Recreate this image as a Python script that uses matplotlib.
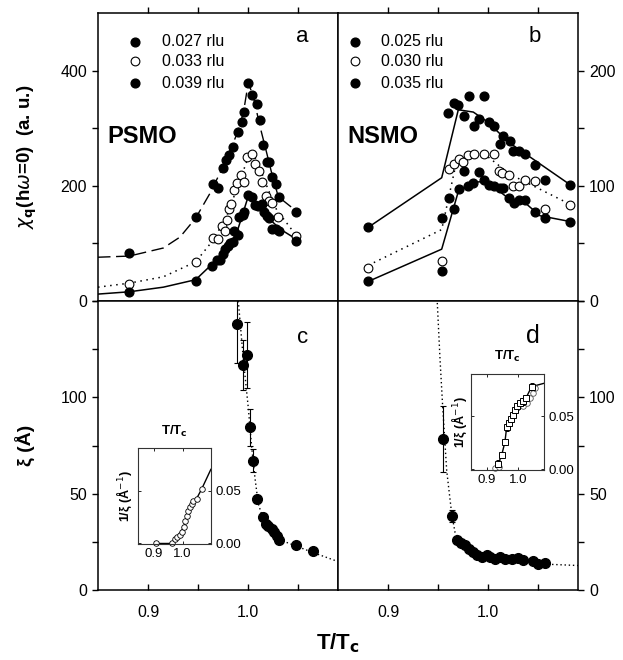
import matplotlib
matplotlib.use('Agg')
import matplotlib.pyplot as plt
from matplotlib.ticker import FixedLocator

plt.rcParams['font.family'] = ['Liberation Sans', 'DejaVu Sans']
plt.rcParams['mathtext.fontset'] = 'dejavusans'

# ---- panel a (PSMO, chi_q) ----
a1_T = [0.8813, 0.9477, 0.9647, 0.9697, 0.9747, 0.978, 0.9813, 0.9853, 0.9903, 0.9937, 0.996, 1.0003,
        1.0043, 1.0087, 1.012, 1.0147, 1.0193, 1.0213, 1.0237, 1.0277, 1.031, 1.0477]
a1_y = [83, 145, 203, 197, 231, 245, 253, 267, 293, 311, 328, 379,
        357, 342, 314, 270, 241, 241, 216, 203, 180, 155]
a2_T = [0.8813, 0.9477, 0.9647, 0.9697, 0.9737, 0.977, 0.9787, 0.981, 0.983, 0.9863, 0.9893, 0.993,
        0.9963, 0.9993, 1.0037, 1.007, 1.011, 1.0137, 1.0177, 1.021, 1.0243, 1.0303, 1.0477]
a2_y = [29, 67, 110, 107, 131, 122, 141, 160, 168, 193, 205, 219,
        206, 250, 256, 238, 226, 207, 183, 173, 170, 145, 112]
a3_T = [0.8813, 0.9477, 0.9643, 0.9687, 0.972, 0.9753, 0.977, 0.9797, 0.982, 0.9847, 0.986, 0.9897,
        0.9913, 0.9953, 0.9963, 1.0003, 1.0043, 1.007, 1.0103, 1.0137, 1.016, 1.0187, 1.021, 1.0237,
        1.0277, 1.031, 1.0477]
a3_y = [15, 35, 60, 72, 72, 82, 90, 96, 100, 103, 121, 115,
        145, 150, 154, 184, 180, 166, 165, 169, 154, 148, 144, 125,
        125, 122, 105]
a1_fit_T = [0.85, 0.8813, 0.9153, 0.932, 0.9477, 0.962, 0.9753, 0.9887, 0.9953, 1.0003,
            1.0053, 1.012, 1.0187, 1.0237, 1.0303, 1.0477]
a1_fit_y = [76, 78, 92, 111, 144, 187, 234, 289, 326, 379,
            355, 303, 257, 222, 181, 157]
a2_fit_T = [0.85, 0.8813, 0.9153, 0.9477, 0.9653, 0.9787, 0.992, 1.002, 1.0087, 1.0187, 1.0287, 1.0477]
a2_fit_y = [24, 31, 42, 68, 106, 147, 210, 258, 245, 200, 158, 115]
a3_fit_T = [0.85, 0.8813, 0.9153, 0.9477, 0.9653, 0.9787, 0.9887, 1.0003, 1.007, 1.0187, 1.032, 1.0477]
a3_fit_y = [12, 16, 24, 37, 66, 92, 118, 182, 170, 147, 125, 108]
a_labels = ['0.027 rlu', '0.033 rlu', '0.039 rlu']

# ---- panel b (NSMO, chi_q) ----
b1_T = [0.8803, 0.9603, 0.966, 0.9697, 0.976, 0.9813, 0.986, 0.9913, 0.996, 1.0013, 1.006, 1.012,
        1.0153, 1.022, 1.0253, 1.0313, 1.037, 1.047, 1.057, 1.082]
b1_y = [64, 163, 172, 170, 161, 178, 152, 158, 178, 155, 152, 136,
        143, 139, 130, 130, 128, 118, 105, 101]
b2_T = [0.8803, 0.9543, 0.961, 0.966, 0.971, 0.9753, 0.9797, 0.986, 0.996, 1.006, 1.011, 1.0143,
        1.021, 1.0253, 1.0313, 1.037, 1.047, 1.057, 1.082]
b2_y = [29, 35, 115, 119, 123, 121, 127, 128, 128, 128, 113, 111,
        109, 100, 100, 105, 104, 80, 83]
b3_T = [0.8803, 0.9543, 0.9543, 0.961, 0.966, 0.9713, 0.976, 0.9797, 0.9853, 0.9913, 0.996, 1.0013,
        1.006, 1.012, 1.0153, 1.0213, 1.0263, 1.0313, 1.037, 1.047, 1.057, 1.082]
b3_y = [17, 26, 72, 89, 80, 97, 113, 100, 102, 112, 105, 101,
        100, 98, 98, 89, 85, 88, 88, 77, 72, 69]
b1_fit_T = [0.8803, 0.9537, 0.9703, 0.9853, 0.9987, 1.022, 1.0387, 1.082]
b1_fit_y = [64, 107, 166, 164, 156, 137, 127, 101]
b2_fit_T = [0.8803, 0.9537, 0.967, 0.9787, 0.9987, 1.022, 1.082]
b2_fit_y = [31, 62, 115, 126, 126, 110, 84]
b3_fit_T = [0.8803, 0.9537, 0.9703, 0.9853, 0.9987, 1.022, 1.0387, 1.052, 1.082]
b3_fit_y = [17, 45, 95, 103, 104, 88, 84, 74, 69]
b_labels = ['0.025 rlu', '0.030 rlu', '0.035 rlu']

# ---- panel c (PSMO, xi) ----
c_T = [0.9887, 0.9953, 0.9993, 1.002, 1.005, 1.0093, 1.0147, 1.0177, 1.0203, 1.0237, 1.0263,
       1.0287, 1.0313, 1.048, 1.0647]
c_xi = [138, 117, 122, 84.5, 67, 47, 38, 34, 33, 31.5, 30, 28, 26, 23.5, 20]
c_err = [20, 13, 17, 9.5, 6, 2, 0, 0, 0, 0, 0, 0, 0, 0, 0]
c_fit_T = [0.9903, 0.9953, 1.0003, 1.0037, 1.007, 1.0103, 1.017, 1.032, 1.0487, 1.0653, 1.0887]
c_fit_xi = [150, 120, 94.5, 74, 58, 44.7, 34, 26, 22.7, 19.4, 15]
ci_T = [0.909, 0.9617, 0.973, 0.981, 0.9906, 0.9986, 1.0045, 1.008, 1.014, 1.0195, 1.0254,
        1.0314, 1.037, 1.0488, 1.0662]
ci_inv = [0.0, 0.0, 0.0044, 0.0063, 0.0084, 0.011, 0.0157, 0.0209, 0.0256, 0.0303, 0.0344,
          0.0375, 0.0397, 0.0422, 0.0513]
ci_fit_T = [0.909, 0.9617, 0.975, 0.99, 1.005, 1.02, 1.035, 1.05, 1.0662, 1.0986]
ci_fit_inv = [0.0, 0.0, 0.004, 0.009, 0.016, 0.029, 0.037, 0.043, 0.0513, 0.0701]

# ---- panel d (NSMO, xi) ----
d_T = [0.9553, 0.9643, 0.9687, 0.9727, 0.977, 0.9813, 0.9853, 0.9893, 0.9937, 0.9987, 1.002,
       1.007, 1.012, 1.017, 1.0237, 1.0303, 1.0353, 1.0453, 1.0503, 1.057]
d_xi = [78.5, 38.3, 26, 24.6, 23.2, 21.5, 19.8, 18, 17.2, 18, 17.2,
        16.3, 17.2, 16, 16.3, 16.7, 15.8, 15, 13.4, 14.1]
d_err = [17, 3, 0, 0, 0, 0, 0, 0, 0, 0, 0, 0, 0, 0, 0, 0, 0, 0, 0, 0]
d_fit_T = [0.9493, 0.952, 0.9547, 0.9587, 0.9637, 0.967, 0.972, 0.992, 1.0253, 1.0587, 1.0903]
d_fit_xi = [149, 120, 95, 62, 39.5, 30, 25.4, 18, 15.8, 13.4, 12.7]
di_sq_T = [0.9367, 0.9473, 0.9577, 0.963, 0.9703, 0.9767, 0.984, 0.9893, 0.9966, 1.005, 1.0155,
           1.024, 1.042]
di_sq_inv = [0.0056, 0.0134, 0.026, 0.0397, 0.0438, 0.0478, 0.0516, 0.0563, 0.0594, 0.0625,
             0.0641, 0.0673, 0.0781]
di_ci_T = [0.9262, 0.9388, 0.9997, 1.0155, 1.026, 1.0366, 1.047, 1.0524]
di_ci_inv = [0.001, 0.002, 0.0594, 0.0594, 0.0625, 0.0673, 0.072, 0.0766]
di_fit_T = [0.9367, 0.9473, 0.9577, 0.963, 0.9767, 0.9893, 1.005, 1.024, 1.042, 1.082]
di_fit_inv = [0.0056, 0.0134, 0.026, 0.0397, 0.0478, 0.0563, 0.0625, 0.0673, 0.0781, 0.0813]

FS = 11.5
ms = 6.3

fig = plt.figure(figsize=(6.23, 6.60), dpi=100)
L1, L2, W = 98 / 623, 338 / 623, 240 / 623
B_top, H_top = 1 - 301 / 660, 288 / 660
B_bot, H_bot = 1 - 590 / 660, 289 / 660
axa = fig.add_axes([L1, B_top, W, H_top])
axb = fig.add_axes([L2, B_top, W, H_top])
axc = fig.add_axes([L1, B_bot, W, H_bot])
axd = fig.add_axes([L2, B_bot, W, H_bot])


def style(ax, side, top):
  for s in ax.spines.values():
    s.set_linewidth(1.1)
  ax.set_xlim(0.85, 1.09)
  ax.xaxis.set_major_locator(FixedLocator([0.9, 1.0]))
  ax.xaxis.set_minor_locator(FixedLocator([0.95, 1.05]))
  ax.set_xticklabels(['0.9', '1.0'])
  if top:
    ax.tick_params(axis='x', which='both', direction='out', top=True, bottom=True,
                   labelbottom=False, length=4, width=1)
  else:
    ax.tick_params(axis='x', which='both', direction='in', top=False, bottom=True,
                   labelbottom=True, length=4, width=1, labelsize=FS, pad=11)
  if side == 'left':
    ax.tick_params(axis='y', which='both', direction='out', left=True, right=False,
                   labelleft=True, labelright=False, length=4, width=1, labelsize=FS, pad=4)
  else:
    ax.tick_params(axis='y', which='both', direction='out', left=False, right=True,
                   labelleft=False, labelright=True, length=4, width=1, labelsize=FS, pad=4)


# panel a
style(axa, 'left', True)
axa.set_ylim(0, 500)
axa.yaxis.set_major_locator(FixedLocator([0, 200, 400]))
axa.yaxis.set_minor_locator(FixedLocator([100, 300]))
axa.plot(a1_fit_T, a1_fit_y, color='k', lw=1, dashes=(9, 4))
axa.plot(a2_fit_T, a2_fit_y, color='k', lw=1.1, dashes=(1, 3))
axa.plot(a3_fit_T, a3_fit_y, color='k', lw=1.1)
axa.plot(a1_T, a1_y, 'o', color='k', ms=ms, zorder=3)
axa.plot(a2_T, a2_y, 'o', mfc='white', mec='k', mew=0.8, ms=ms, zorder=3)
axa.plot(a3_T, a3_y, 'o', color='k', ms=ms, zorder=3)
axa.text(0.04, 0.571, 'PSMO', transform=axa.transAxes, fontsize=17, fontweight='bold', va='center')
axa.text(0.853, 0.918, 'a', transform=axa.transAxes, fontsize=16, ha='center', va='center')
axa.set_ylabel(r'$\chi_\mathbf{q}$(h$\omega$=0)  (a. u.)', fontsize=13.5, fontweight='bold', labelpad=15)

# panel b
style(axb, 'right', True)
axb.set_ylim(0, 250)
axb.yaxis.set_major_locator(FixedLocator([0, 100, 200]))
axb.yaxis.set_minor_locator(FixedLocator([50, 150]))
axb.plot(b1_fit_T, b1_fit_y, color='k', lw=1.1)
axb.plot(b2_fit_T, b2_fit_y, color='k', lw=1.1, dashes=(1, 3))
axb.plot(b3_fit_T, b3_fit_y, color='k', lw=1.1)
axb.plot(b1_T, b1_y, 'o', color='k', ms=ms, zorder=3)
axb.plot(b2_T, b2_y, 'o', mfc='white', mec='k', mew=0.8, ms=ms, zorder=3)
axb.plot(b3_T, b3_y, 'o', color='k', ms=ms, zorder=3)
axb.text(0.04, 0.571, 'NSMO', transform=axb.transAxes, fontsize=17, fontweight='bold', va='center')
axb.text(0.821, 0.918, 'b', transform=axb.transAxes, fontsize=16, ha='center', va='center')

# legends
leg_y = [0.900, 0.833, 0.756]
for ax, labels, mx, tx in [(axa, a_labels, 0.154, 0.267), (axb, b_labels, 0.071, 0.178)]:
  for i, (lab, yy) in enumerate(zip(labels, leg_y)):
    if i == 1:
      ax.plot([mx], [yy], 'o', mfc='white', mec='k', mew=0.8, ms=ms, transform=ax.transAxes)
    else:
      ax.plot([mx], [yy], 'o', color='k', ms=ms, transform=ax.transAxes)
    ax.text(tx, yy, lab, transform=ax.transAxes, fontsize=FS, va='center')

# panel c
style(axc, 'left', False)
axc.set_ylim(0, 150)
axc.yaxis.set_major_locator(FixedLocator([0, 50, 100]))
axc.yaxis.set_minor_locator(FixedLocator([25, 75, 125, 150]))
axc.plot(c_fit_T, c_fit_xi, color='k', lw=1, dashes=(1, 2))
axc.errorbar(c_T, c_xi, yerr=c_err, fmt='o', color='k', ms=7, elinewidth=0.8, capsize=2, capthick=0.8)
axc.text(0.853, 0.873, 'c', transform=axc.transAxes, fontsize=16, ha='center', va='center')
axc.set_ylabel('ξ (Å)', fontsize=14, fontweight='bold', labelpad=18)

# panel d
style(axd, 'right', False)
axd.set_ylim(0, 150)
axd.yaxis.set_major_locator(FixedLocator([0, 50, 100]))
axd.yaxis.set_minor_locator(FixedLocator([25, 75, 125, 150]))
axd.plot(d_fit_T, d_fit_xi, color='k', lw=1, dashes=(1, 2))
axd.errorbar(d_T, d_xi, yerr=d_err, fmt='o', color='k', ms=7, elinewidth=0.8, capsize=2, capthick=0.8)
axd.text(0.814, 0.879, 'd', transform=axd.transAxes, fontsize=18, ha='center', va='center')

fig.text(338 / 623, 1 - 643 / 660, r'T/T$_\mathbf{c}$', fontsize=16, fontweight='bold', ha='center', va='center')


# insets
def inset_style(ax, xlim):
  for s in ax.spines.values():
    s.set_linewidth(0.8)
    s.set_color('#333333')
  ax.set_xlim(*xlim)
  ax.set_ylim(-0.0005, 0.09)
  ax.xaxis.set_major_locator(FixedLocator([0.9, 1.0]))
  ax.set_xticklabels(['0.9', '1.0'])
  ax.yaxis.set_major_locator(FixedLocator([0.0, 0.05]))
  ax.set_yticklabels(['0.00', '0.05'])
  ax.tick_params(which='both', direction='in', top=True, bottom=True, left=True, right=True,
                 labelleft=False, labelright=True, length=2.5, width=0.6, labelsize=9.5, pad=3)


axci = fig.add_axes([137.7 / 623, 1 - 544 / 660, 73.3 / 623, 95.7 / 660])
inset_style(axci, (0.844, 1.099))
axci.plot(ci_fit_T, ci_fit_inv, color='k', lw=1)
axci.plot(ci_T, ci_inv, 'o', mfc='white', mec='k', mew=0.6, ms=4, clip_on=False)
axci.set_title(r'T/T$_\mathbf{c}$', fontsize=9.5, fontweight='bold', pad=10)
axci.set_ylabel(r'1/ξ (Å$^{-1}$)', fontsize=9, fontweight='bold', labelpad=3)

axdi = fig.add_axes([470.7 / 623, 1 - 470 / 660, 73.6 / 623, 96 / 660])
inset_style(axdi, (0.8495, 1.082))
axdi.plot(di_fit_T, di_fit_inv, color='k', lw=1)
axdi.plot(di_ci_T, di_ci_inv, 'o', mfc='white', mec='#555555', mew=0.6, ms=4, clip_on=False)
axdi.errorbar(di_sq_T, di_sq_inv, yerr=0.003, fmt='s', mfc='white', mec='k', mew=0.7, ms=3.8,
              ecolor='k', elinewidth=0.6, capsize=1.5, clip_on=False)
axdi.set_title(r'T/T$_\mathbf{c}$', fontsize=9.5, fontweight='bold', pad=10)
axdi.set_ylabel(r'1/ξ (Å$^{-1}$)', fontsize=9, fontweight='bold', labelpad=1)

fig.savefig('out.png', dpi=100)
